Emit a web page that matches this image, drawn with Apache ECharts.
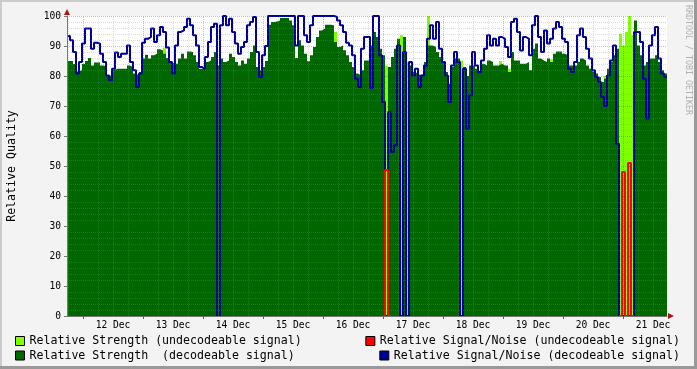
<!DOCTYPE html>
<html><head><meta charset="utf-8">
<script src="https://cdn.jsdelivr.net/npm/echarts@6/dist/echarts.min.js"></script>
<style>html,body{margin:0;padding:0;background:#f3f3f3}#c{width:697px;height:369px}</style>
</head><body><div id="c"></div><script>
// time base: hours relative to 12 Dec 00:00
const startHour = -6.4;
const stepHours = 1.2;
const endHour = 233.6;
const dayLabels = ['12 Dec','13 Dec','14 Dec','15 Dec','16 Dec','17 Dec','18 Dec','19 Dec','20 Dec','21 Dec'];
const dayNoonHours = [12,36,60,84,108,132,156,180,204,228];
const midnightHours = [0,24,48,72,96,120,144,168,192,216];
const sixHourGrid = [-6,6,12,18,30,36,42,54,60,66,78,84,90,102,108,114,126,132,138,150,156,162,174,180,186,198,204,210,222,228];

const strengthDecodable = [
85,85,84,81.5,82,84,85,86,83.5,84.5,
84.5,83.5,83.3,80.2,80.2,82.2,82.4,82.4,82.4,82.4,
83.5,83,80.8,80.2,81.3,85.8,87.1,85.8,86.9,87.4,
88.9,88.5,87.4,86,84.7,84.1,84.1,85.8,87.4,85.8,
88.2,88,86.9,84.7,82.4,83,84.7,85.2,86.3,88,
83.5,85.8,84.7,85.2,87.4,86.3,84.7,83.5,85.2,84.1,
85.8,88,90.2,83,81.9,83,85,97.1,98,98.2,
98.5,99.3,99.3,99.3,98.5,96.9,86,91.9,90.2,87.4,
84.9,86.9,89.7,93,95.2,95.8,97.1,97.1,96.9,91.3,
89.7,90.2,88.6,86.9,84.7,83,80.8,80.2,81.9,85.2,
85.2,90.2,94.7,93,89.1,86.9,0,83,86.3,89.1,
92.4,0,93,0,83.5,81.3,80.8,80.2,80.8,84.7,
90.2,90.2,89.7,88,86.3,84.7,81.3,77.4,83,85.8,
85.8,0,83,80,83.5,83.5,82.4,81.3,84.1,83.5,
85.2,84.7,83.5,83.5,84.1,83.5,83.5,81.3,88,85.2,
85.2,84.1,84.1,84.7,81.9,89.1,90.8,85.8,85.2,84.7,
85.8,84.7,87.4,88.2,88.2,87.4,86.9,83.5,83.5,83.5,
84.7,85.8,85.2,83.5,82.4,81.5,80.8,79.7,78,79.1,
82.4,84.7,86.9,89.1,0,0,0,0,0,98.5,
90.2,86.9,83.5,84.7,85.8,85.8,86.9,84.7,81.9,80.8
];

const strengthUndecodable = [
0,0,0,0,0,0,0,0,0,0,
0,0,0,0,0,0,0,0,0,0,
0,0,0,0,0,0,0,0,0,0,
0,0,89.5,0,0,0,0,0,0,0,
0,0,0,0,0,0,0,0,0,0,
0,0,0,0,0,0,0,0,0,0,
0,0,0,0,0,0,0,0,0,0,
0,0,0,0,0,0,0,0,0,0,
0,0,0,0,0,0,0,0,0,94.7,
0,0,0,0,0,0,0,0,0,0,
0,0,0,0,0,0,83.5,0,0,0,
0,93.6,0,84.7,0,0,0,0,0,0,
100,0,0,0,0,0,0,0,0,0,
0,85.2,0,0,0,0,0,0,0,0,
0,0,0,0,85,0,0,82.4,0,0,
0,0,0,0,0,0,0,0,0,0,
0,85.5,0,0,0,0,0,0,0,0,
0,0,0,0,0,0,0,0,0,80,
0,0,0,0,94.1,90.2,94.7,100,93.6,0,
0,0,0,0,0,0,0,0,0,0
];

const snDecodable = [
93.3,91.9,88,80.8,84.7,90.8,95.8,95.8,89.1,91.1,
90.8,87.4,84.7,80.2,78.6,82.4,87.8,86.3,87.4,87.4,
90.2,84.7,81.9,76.3,80.8,91.1,92.4,93,95.8,91.3,
93.6,96.3,94.7,89.5,84.7,80.8,90.2,94.7,95.2,96.3,
99.1,96.9,93.6,90.2,83,82.4,86.3,91.3,96.3,97.4,
0,96.9,100,96.9,99.1,94.7,90.8,87.4,89.7,91.3,
96.9,98,99.7,88,79.7,86.9,90,100,100,100,
100,100,100,100,100,100,90.2,100,100,93.6,
91.3,96.9,100,100,100,100,100,100,100,99.7,
98.5,96.9,94.7,91.1,90.2,86.9,79.1,76.3,89.1,93,
93,76,100,100,86.9,71.3,0,68,54.7,56.9,
90.2,0,88,0,84.7,80.2,82.4,76.3,80.2,83.5,
92.4,96.9,92.4,98,89.1,84.7,80.2,71.3,83.5,88,
84.7,0,82.4,62.4,73.6,88,83.5,81.3,85.2,89.1,
93.6,90.2,92.4,90.2,93,92.4,89.7,86.3,98,99.1,
94.7,88.5,93,92.4,86.9,96.9,100,93,88,95.2,
90.8,92.4,95.8,98,96.3,92.4,91.3,82.4,81.3,84.7,
93.6,95.8,93,89.1,85.8,81.9,79.7,78,73,70,
80.2,85.2,90.2,57.4,0,0,0,0,0,94.7,
94.7,91.3,79.1,65.8,90.2,93.6,96.3,85.8,80.8,79.7
];

const snUndecodable = [];
for (let i = 0; i < 200; i++) snUndecodable.push(null);
snUndecodable[105] = 0; snUndecodable[106] = 48.7; snUndecodable[107] = 0;
snUndecodable[184] = 0; snUndecodable[185] = 48; snUndecodable[186] = 0; snUndecodable[187] = 51; snUndecodable[188] = 0;

function toSeries(vals) {
  const d = vals.map((v, i) => [startHour + i * stepHours, v]);
  d.push([endHour, vals[vals.length - 1]]);
  return d;
}

const FONT = 'DejaVu Sans Mono';
const C_LIGHT = '#80ff00', C_RED = '#ff0000', C_DARK = '#006600', C_BLUE = '#000099';
const C_ARROW = '#a01818';
const names = ['Relative Strength (undecodeable signal)', 'Relative Signal/Noise (undecodeable signal)',
               'Relative Strength  (decodeable signal)', 'Relative Signal/Noise (decodeable signal)'];

const chart = echarts.init(document.getElementById('c'), null, {renderer: 'canvas'});
const legendBase = {
  padding: 0, itemWidth: 9, itemHeight: 9, icon: 'rect', selectedMode: false,
  itemStyle: {borderColor: '#000', borderWidth: 1},
  textStyle: {fontFamily: FONT, fontSize: 11.6, color: '#000'}
};
const gridLineMajor = {color: 'rgba(140,35,35,0.32)', width: 1, type: [1, 1]};
const gridLineMinor = {color: 'rgba(140,140,140,0.3)', width: 1, type: [1, 1]};

chart.setOption({
  animation: false,
  backgroundColor: '#f3f3f3',
  grid: {left: 67, right: 30, top: 16, bottom: 53, show: true, backgroundColor: '#ffffff', borderWidth: 0,
         containLabel: false, outerBoundsMode: 'none'},
  xAxis: {
    type: 'value', min: startHour, max: endHour, z: 6,
    axisLine: {show: true, onZero: false, lineStyle: {color: '#777', width: 1}},
    axisTick: {show: true, customValues: midnightHours, length: 3, lineStyle: {color: '#c03030'}},
    axisLabel: {customValues: dayNoonHours, formatter: v => dayLabels[dayNoonHours.indexOf(Math.round(v))] || '',
                fontFamily: FONT, fontSize: 9.6, color: '#000', margin: 4},
    splitLine: {show: false}
  },
  yAxis: {
    type: 'value', min: 0, max: 100, interval: 10, z: 6,
    axisLine: {show: true, onZero: false, lineStyle: {color: '#777', width: 1}},
    axisTick: {show: true, length: 3, lineStyle: {color: '#777'}},
    minorTick: {show: false, splitNumber: 5},
    splitLine: {show: true, lineStyle: gridLineMajor},
    minorSplitLine: {show: true, lineStyle: gridLineMinor},
    axisLabel: {fontFamily: FONT, fontSize: 9.6, color: '#000', margin: 6},
    name: 'Relative Quality', nameLocation: 'middle', nameGap: 49, nameRotate: 90,
    nameTextStyle: {fontFamily: FONT, fontSize: 11.6, color: '#000'}
  },
  legend: [
    Object.assign({}, legendBase, {left: 15, top: 335, data: [names[0]]}),
    Object.assign({}, legendBase, {left: 15, top: 349.5, data: [names[2]]}),
    Object.assign({}, legendBase, {right: 17, top: 335, data: [names[1]]}),
    Object.assign({}, legendBase, {right: 17, top: 349.5, data: [names[3]]})
  ],
  series: [
    {name: names[0], type: 'line', step: 'end', data: toSeries(strengthUndecodable), color: C_LIGHT,
     showSymbol: false, symbol: 'none', lineStyle: {width: 0}, areaStyle: {color: C_LIGHT, opacity: 1}},
    {name: names[2], type: 'line', step: 'end', data: toSeries(strengthDecodable), color: C_DARK,
     showSymbol: false, symbol: 'none', lineStyle: {width: 0}, areaStyle: {color: C_DARK, opacity: 1}},
    {name: names[3], type: 'line', step: 'end', data: toSeries(snDecodable), color: C_BLUE,
     showSymbol: false, symbol: 'none', lineStyle: {width: 2, color: C_BLUE}},
    {name: names[1], type: 'line', step: 'end', data: toSeries(snUndecodable), color: C_RED,
     showSymbol: false, symbol: 'none', lineStyle: {width: 2, color: C_RED}, connectNulls: false},
    {name: 'grid-minor', type: 'line', data: [[startHour, null]], z: 5, silent: true,
     markLine: {symbol: 'none', silent: true, animation: false, label: {show: false}, lineStyle: gridLineMinor,
                emphasis: {disabled: true}, data: sixHourGrid.map(h => ({xAxis: h}))}},
    {name: 'grid-major', type: 'line', data: [[startHour, null]], z: 5, silent: true,
     markLine: {symbol: 'none', silent: true, animation: false, label: {show: false}, lineStyle: gridLineMajor,
                emphasis: {disabled: true}, data: midnightHours.map(h => ({xAxis: h}))},
     markPoint: {silent: true, animation: false, label: {show: false}, itemStyle: {color: C_ARROW},
                 data: [
                   {coord: [startHour, 100], symbol: 'triangle', symbolSize: [6, 6], symbolOffset: [0, -4]},
                   {coord: [endHour, 0], symbol: 'triangle', symbolSize: [6, 6], symbolRotate: -90, symbolOffset: [4, 0]}
                 ]}}
  ],
  graphic: [
    {type: 'rect', shape: {x: 0, y: 0, width: 697, height: 2}, style: {fill: '#cbcbcb'}, silent: true},
    {type: 'rect', shape: {x: 0, y: 0, width: 2, height: 369}, style: {fill: '#cbcbcb'}, silent: true},
    {type: 'rect', shape: {x: 0, y: 366, width: 697, height: 3}, style: {fill: '#999999'}, silent: true},
    {type: 'rect', shape: {x: 694, y: 0, width: 3, height: 369}, style: {fill: '#999999'}, silent: true},
    {type: 'text', x: 688, y: 5, rotation: -Math.PI / 2, silent: true,
     style: {text: 'RRDTOOL / TOBI OETIKER', font: '8.3px "DejaVu Sans Mono"', fill: '#b0b0b0', align: 'left', verticalAlign: 'middle'}}
  ]
});
</script></body></html>
